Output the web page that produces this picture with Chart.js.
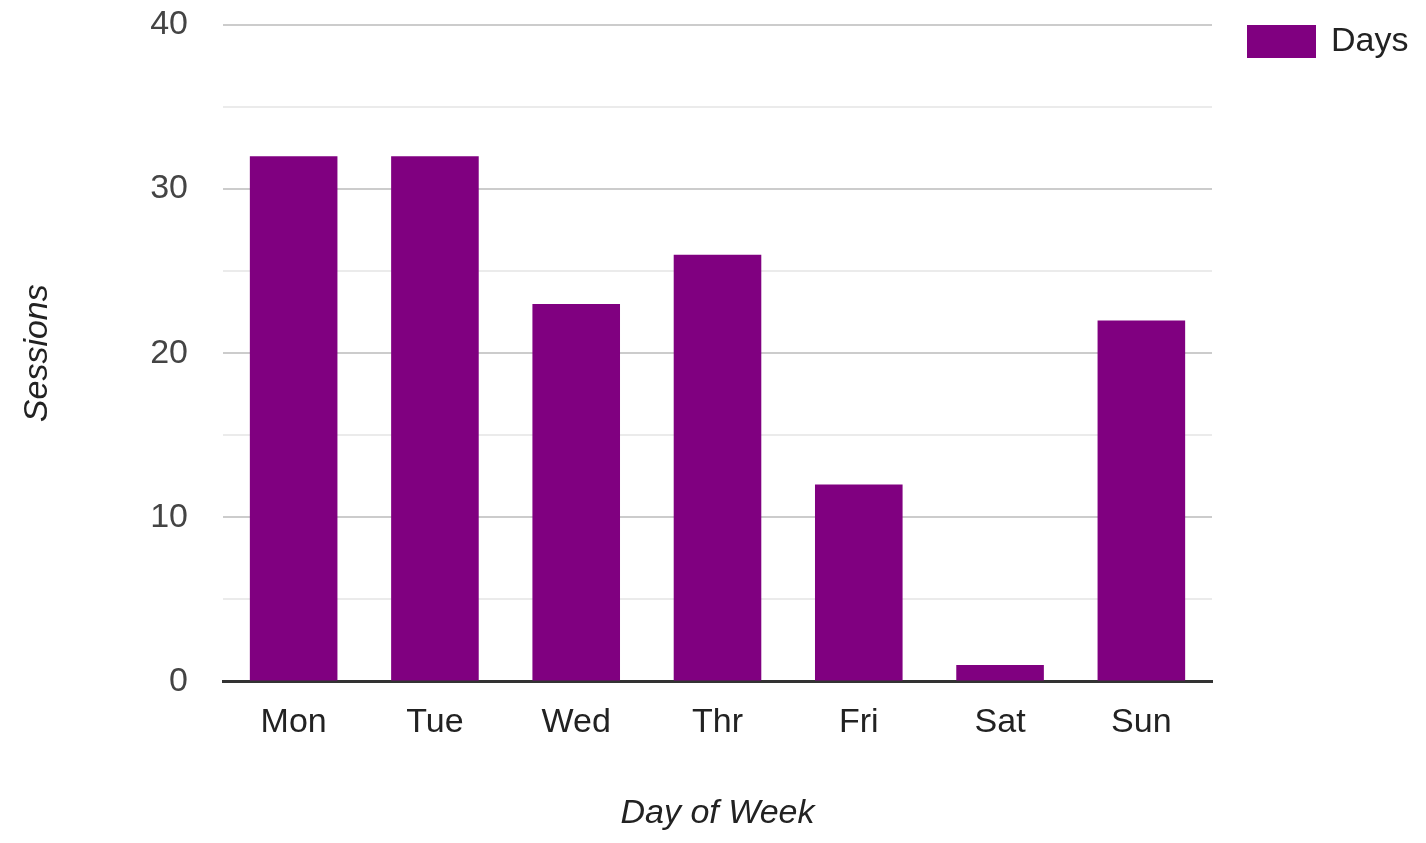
<!DOCTYPE html>
<html>
<head>
<meta charset="utf-8">
<script src="https://cdn.jsdelivr.net/npm/chart.js@4"></script>
<style>
  html, body { margin: 0; padding: 0; background: #fff; }
  #wrap { width: 1426px; height: 843px; }
</style>
</head>
<body>
<div id="wrap"><canvas id="sessionsChart"></canvas></div>
<script>
const days = ["Mon", "Tue", "Wed", "Thr", "Fri", "Sat", "Sun"];
const sessions = [32, 32, 23, 26, 12, 1, 22];
const yTicks = [0, 10, 20, 30, 40];

const FONT = "'Liberation Sans', Arial, sans-serif";
const PURPLE = "#800080";

// legend drawn by hand so it sits exactly where the original does
const sideLegend = {
  id: "sideLegend",
  afterDraw(chart) {
    const c = chart.ctx;
    const ds = chart.data.datasets[0];
    const x = chart.chartArea.right + 35;
    const y = chart.chartArea.top;
    c.save();
    c.fillStyle = ds.backgroundColor;
    c.fillRect(x, y, 69, 33);
    c.fillStyle = "#222";
    c.font = "34px " + FONT;
    c.textBaseline = "middle";
    c.textAlign = "left";
    c.fillText(ds.label, x + 84, y + 17);
    c.restore();
  },
};

const ctx = document.getElementById("sessionsChart");
new Chart(ctx, {
  type: "bar",
  data: {
    labels: days,
    datasets: [
      {
        label: "Days",
        data: sessions,
        backgroundColor: PURPLE,
        categoryPercentage: 1,
        barPercentage: 0.62,
      },
    ],
  },
  options: {
    responsive: true,
    maintainAspectRatio: false,
    animation: false,
    layout: { padding: { top: 25, right: 214, bottom: 9, left: 17 } },
    plugins: {
      legend: { display: false },
      tooltip: { enabled: false },
    },
    scales: {
      x: {
        z: 1,
        grid: { display: false },
        border: { display: true, color: "#333", width: 3 },
        ticks: { color: "#222", font: { family: FONT, size: 34 }, padding: 13 },
        title: {
          display: true,
          text: "Day of Week",
          color: "#222",
          font: { family: FONT, size: 34, style: "italic" },
          padding: { top: 37, bottom: 0 },
        },
      },
      y: {
        min: 0,
        max: 40,
        afterFit: (scale) => {
          scale.width = 206;
          scale.paddingTop = 0;
          scale.paddingBottom = 0;
        },
        border: { display: false },
        grid: {
          drawTicks: false,
          lineWidth: 2,
          color: (c) => {
            const v = c.tick.value;
            if (v === 0) return "rgba(0,0,0,0)";
            return yTicks.includes(v) ? "#ccc" : "#ebebeb";
          },
        },
        ticks: {
          stepSize: 5,
          color: "#444",
          padding: 35,
          font: { family: FONT, size: 34 },
          callback: (v) => (yTicks.includes(v) ? v : ""),
        },
        title: {
          display: true,
          text: "Sessions",
          color: "#222",
          font: { family: FONT, size: 34, style: "italic" },
          padding: 0,
        },
      },
    },
  },
  plugins: [sideLegend],
});
</script>
</body>
</html>
